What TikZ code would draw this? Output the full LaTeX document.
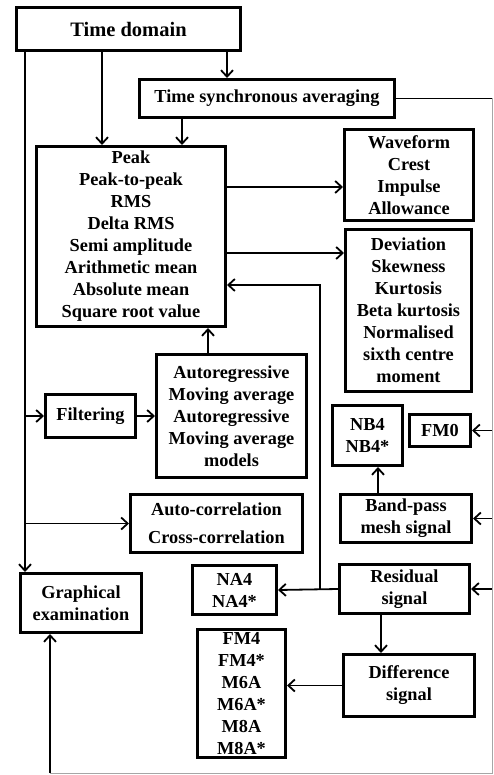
\documentclass[tikz,border=0pt]{standalone}
\usepackage{fontspec}
\setmainfont{Liberation Serif}
\usetikzlibrary{arrows.meta}

\begin{document}
\begin{tikzpicture}[x=1pt, y=-1pt,
  box/.style={draw, line width=3pt, align=center, inner sep=0pt, font=\bfseries\fontsize{18.3}{22}\selectfont},
  conn/.style={-{Straight Barb[length=6.5pt,width=12pt]}, line width=1.8pt},
  bus/.style={black!35, line width=1pt}]
  \useasboundingbox (0,0) rectangle (494,775);
  % Boxes
  \node[box, minimum width=224pt, minimum height=43pt, font=\bfseries\fontsize{20.5}{22}\selectfont] (td) at (128.5,29) {Time domain};
  \node[box, minimum width=255pt, minimum height=38pt] (tsa) at (267,98.5) {Time synchronous averaging};
  \node[box, minimum width=189pt, minimum height=180pt] (stat) at (131,236.5)
    {Peak\\Peak-to-peak\\RMS\\Delta RMS\\Semi amplitude\\Arithmetic mean\\Absolute mean\\Square root value};
  \node[box, minimum width=129pt, minimum height=91pt] (wave) at (409,175) {Waveform\\Crest\\Impulse\\Allowance};
  \node[box, minimum width=126pt, minimum height=162pt] (dev) at (408.5,310.5)
    {Deviation\\Skewness\\Kurtosis\\Beta kurtosis\\Normalised\\sixth centre\\moment};
  \node[box, minimum width=90pt, minimum height=43pt] (filt) at (90.5,416) {Filtering};
  \node[box, minimum width=150pt, minimum height=123pt] (ar) at (231.5,416)
    {Autoregressive\\Moving average\\Autoregressive\\Moving average\\models};
  \node[box, minimum width=70pt, minimum height=60pt] (nb4) at (367.5,435.5) {NB4\\NB4*};
  \node[box, minimum width=61pt, minimum height=32pt] (fm0) at (440,430.5) {FM0};
  \node[box, minimum width=131pt, minimum height=48pt] (bp) at (406,518.5) {Band-pass\\mesh signal};
  \node[box, minimum width=172pt, minimum height=58pt] (acorr) at (216.5,523.5) {Auto-correlation\\[6pt]Cross-correlation};
  \node[box, minimum width=121pt, minimum height=59pt] (graph) at (81,603) {Graphical\\examination};
  \node[box, minimum width=84pt, minimum height=49pt] (na4) at (234.5,590) {NA4\\NA4*};
  \node[box, minimum width=130pt, minimum height=49pt] (res) at (404.5,589) {Residual\\signal};
  \node[box, minimum width=131pt, minimum height=62pt] (diff) at (409,685.5) {Difference\\signal};
  \node[box, minimum width=88pt, minimum height=128pt] (fm4) at (241.5,693.5) {FM4\\FM4*\\M6A\\M6A*\\M8A\\M8A*};
  % Left trunk
  \draw[conn] (td.south -| 25,0) -- (graph.north -| 25,0);
  \draw[conn] (filt.west -| 25,0) -- (filt.west);
  \draw[conn] (acorr.west -| 25,0) -- (acorr.west);
  % Time domain and TSA
  \draw[conn] (td.south -| 102,0) -- (stat.north -| 102,0);
  \draw[conn] (td.south -| 227,0) -- (tsa.north -| 227,0);
  \draw[conn] (tsa.south -| 182,0) -- (stat.north -| 182,0);
  \draw[conn] (stat.east |- 0,187) -- (wave.west |- 0,187);
  \draw[conn] (stat.east |- 0,253) -- (dev.west |- 0,253);
  \draw[conn] (filt.east) -- (ar.west);
  \draw[conn] (ar.north -| 208,0) -- (stat.south -| 208,0);
  % Residual branch
  \draw[conn] (res.west) -- (na4.east);
  \draw[conn] (res.west -| 320,0) |- (stat.east |- 0,285);
  \draw[conn] (bp.north -| 378,0) -- (nb4.south -| 378,0);
  \draw[conn] (res.south -| 381,0) -- (diff.north -| 381,0);
  \draw[conn] (diff.west) -- (diff.west -| fm4.east);
  % Right bus
  \coordinate (rb) at (492,773);
  \coordinate (gb) at (50,773);
  \draw[line width=1.8pt] (tsa.east) -- (tsa.east -| rb);
  \draw[bus] (tsa.east -| rb) -- (rb) -- (gb);
  \draw[conn] (gb) -- (graph.south -| gb);
  \draw[conn] (fm0.east -| rb) -- (fm0.east);
  \draw[conn] (bp.east -| rb) -- (bp.east);
  \draw[conn] (res.east -| rb) -- (res.east);
\end{tikzpicture}
\end{document}
